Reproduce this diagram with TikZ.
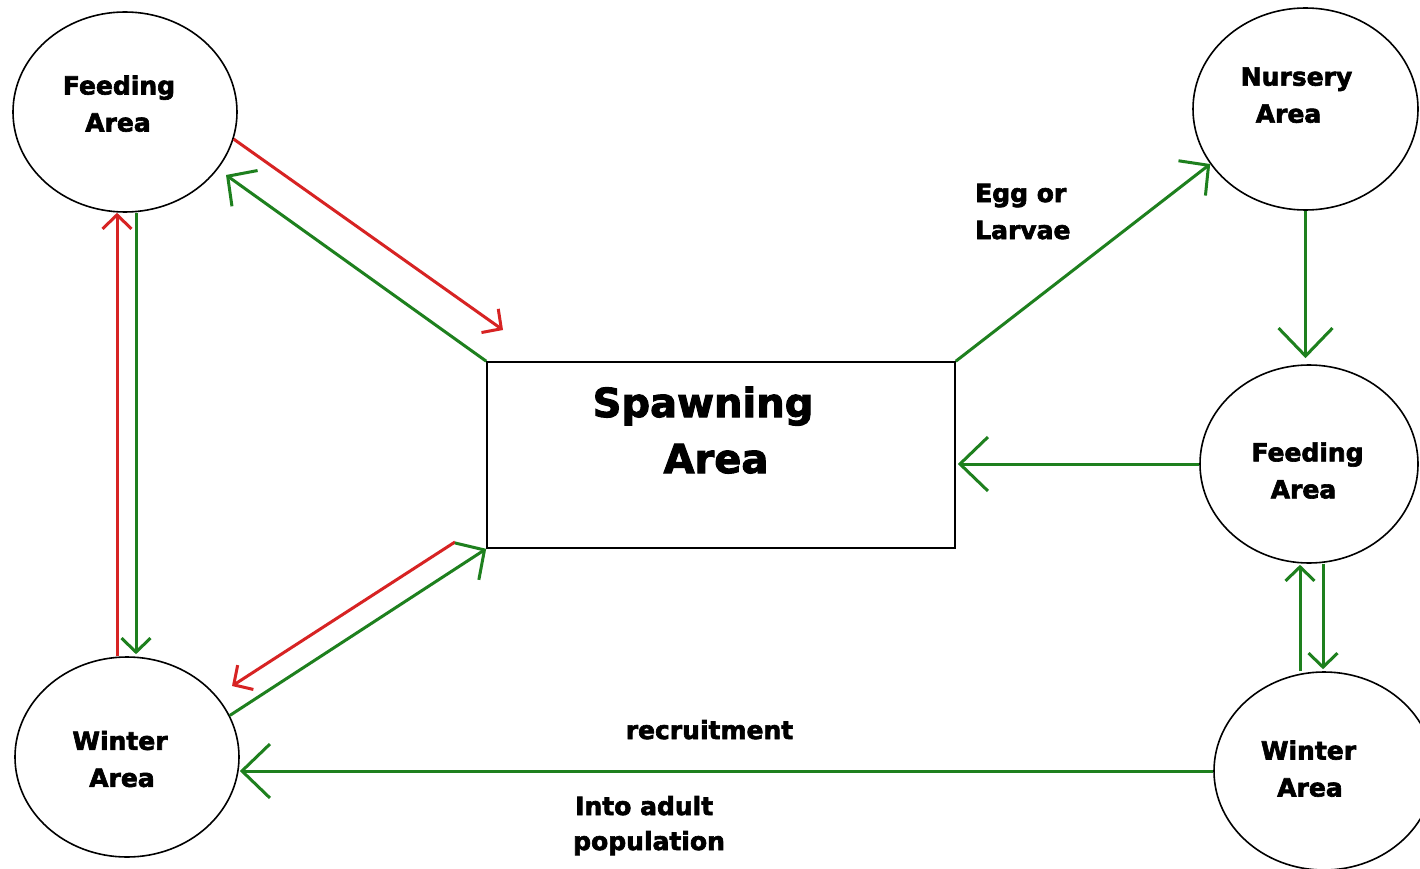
\documentclass[tikz,border=0pt]{standalone}
\usepackage{fontspec}
\setmainfont{DejaVu Sans}[BoldFeatures={FakeBold=2.5}]
\usetikzlibrary{arrows.meta,shapes.geometric,calc}
\definecolor{lgreen}{RGB}{30,128,30}
\definecolor{lred}{RGB}{215,35,35}
\newcommand\shl[1]{\hspace*{#1}}
\begin{document}
\begin{tikzpicture}[x=1pt,y=-1pt,
  area/.style={ellipse,draw=black,line width=1.6pt,inner sep=0pt,
    font=\bfseries\fontsize{25}{37}\selectfont,align=center},
  lbl/.style={inner sep=0pt,font=\bfseries\fontsize{25}{37}\selectfont},
  gline/.style={draw=lgreen,line width=3pt},
  rline/.style={draw=lred,line width=3pt},
  barbS/.style={-{Straight Barb[length=14pt,width=29pt]}},
  barbM/.style={-{Straight Barb[length=21pt,width=44pt]}},
  barbL/.style={-{Straight Barb[length=28pt,width=54pt]}}
]
\useasboundingbox (0,0) rectangle (1420,869);
\fill[white] (0,0) rectangle (1420,869);
\clip (0,0) rectangle (1420,869);

% nodes
\node[area,minimum width=224pt,minimum height=200pt,text depth=17pt] (feedL) at (125,112) {\shl{-12pt}Feeding\\\shl{-14pt}Area};
\node[area,minimum width=225pt,minimum height=202pt,text depth=28pt] (nursery) at (1305.5,109) {\shl{-18pt}Nursery\\\shl{-34pt}Area};
\node[area,minimum width=218pt,minimum height=198pt,text height=69pt] (feedR) at (1309,464) {\shl{-3pt}Feeding\\\shl{-11pt}Area};
\node[area,minimum width=220pt,minimum height=198pt,text depth=5pt] (winterR) at (1324,771) {\shl{-31pt}Winter\\\shl{-28pt}Area};
\node[area,minimum width=224pt,minimum height=200pt,text height=60pt] (winterL) at (127,757) {\shl{-14pt}Winter\\\shl{-10pt}Area};

\node[draw=black,line width=1.6pt,minimum width=468pt,minimum height=186pt,inner sep=0pt] (spawn) at (721,455) {};
\node[lbl,font=\bfseries\fontsize{40}{54}\selectfont,anchor=base] (sp1) at (703,417) {Spawning};
\node[lbl,font=\bfseries\fontsize{40}{54}\selectfont,anchor=base] (sp2) at (716,473) {Area};

\node[lbl,anchor=base west] (egg1) at (975,202) {Egg or};
\node[lbl,anchor=base west] (egg2) at (975,239) {Larvae};
\node[lbl,anchor=base] (rec) at (709.5,739) {recruitment};
\node[lbl,anchor=base west] (into1) at (575,815) {Into adult};
\node[lbl,anchor=base west] (into2) at (573,850) {population};

% free ends
\coordinate (r1end) at (503,330);
\coordinate (g1end) at (226,175);
\coordinate (r2start) at (455,542);
\coordinate (r2end) at (232,686);

% left side connectors
\draw[rline,barbS] (feedL.-14) -- (r1end);
\draw[gline,barbM] (spawn.north west) -- (g1end);
\draw[rline,barbS] ([xshift=-10pt]winterL.north) -- ([xshift=-8pt]feedL.south);
\draw[gline,barbS,shorten >=2pt] ([xshift=11pt]feedL.south) -- ([xshift=9pt]winterL.north);
\draw[rline,barbS] (r2start) -- (r2end);
\draw[gline,barbM] (winterL.22) -- (spawn.south west);

% right side connectors
\draw[gline,barbM] (spawn.north east) -- (nursery.210);
\draw[gline,barbL,shorten >=6pt] (nursery.south) -- (nursery.south |- feedR.north);
\draw[gline,barbL,shorten >=2pt] (feedR.west) -- (feedR.west -| spawn.east);
\draw[gline,barbS,shorten >=1pt] ([xshift=-24pt]winterR.north) -- ([xshift=-9pt]feedR.south);
\draw[gline,barbS,shorten >=2pt] ([xshift=14pt]feedR.south) -- ([xshift=-1pt]winterR.north);
\draw[gline,barbL] (winterR.west) -- (winterR.west -| winterL.east);
\end{tikzpicture}
\end{document}
